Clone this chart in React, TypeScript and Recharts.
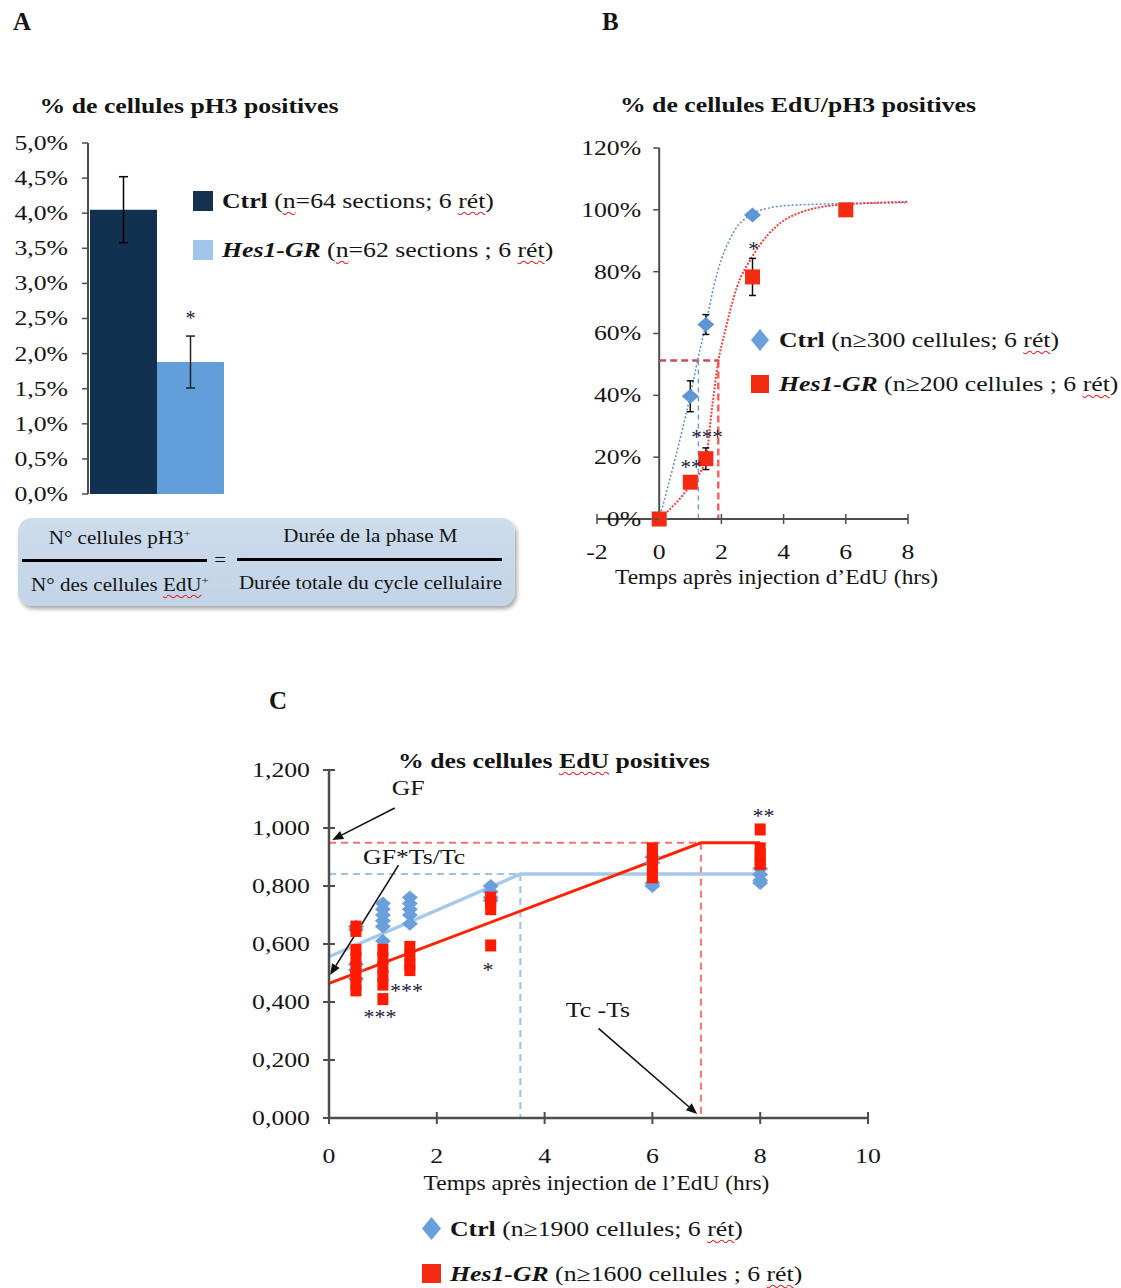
import React from "react";
import {
  BarChart,
  Bar,
  ComposedChart,
  Line,
  Scatter,
  XAxis,
  YAxis,
  ErrorBar,
  ReferenceLine,
  LabelList,
  Legend,
} from "recharts";

const FONT = '"Liberation Serif", "Times New Roman", Times, serif';
const AXIS = "#4d4d4d";
const INK = "#141414";
const SX = 1.17; // the figure's lettering is stretched horizontally

// ---------- A : % de cellules pH3 positives ----------
const barGroups = ["pH3"];
const ctrlPh3 = [4.05];
const ctrlPh3Err = [0.47];
const hesPh3 = [1.88];
const hesPh3Err = [0.37];
const ph3Ticks = [0, 0.5, 1, 1.5, 2, 2.5, 3, 3.5, 4, 4.5, 5];

// ---------- B : % de cellules EdU/pH3 positives ----------
const mitTicksX = [-2, 0, 2, 4, 6, 8];
const mitTicksY = [0, 20, 40, 60, 80, 100, 120];
const ctrlMitX = [0, 1, 1.5, 3];
const ctrlMitY = [0, 39.7, 62.9, 98.3];
const ctrlMitErr = [null, 5, 3.2, null];
const hesMitX = [0, 1, 1.5, 3, 6];
const hesMitY = [0, 11.9, 19.5, 78.3, 100];
const hesMitErr = [null, null, 3.5, 6, null];
// fitted curves
const ctrlMitFitX = [0, 0.5, 1, 1.25, 1.5, 1.75, 2, 2.25, 2.5, 2.75, 3, 3.5, 4, 5, 6, 8];
const ctrlMitFitY = [0, 19, 40, 52, 63, 75, 84, 90, 94.5, 97, 98.8, 100.5, 101.3, 101.8, 102, 102.3];
const hesMitFitX = [0, 1, 1.5, 1.7, 1.9, 2.1, 2.5, 3, 3.5, 4, 4.5, 5, 6, 7, 8];
const hesMitFitY = [0, 11, 19.5, 36, 51, 60, 75, 85, 92, 96.5, 99, 100.5, 101.8, 102.3, 102.6];
const mitHalf = 51.3;
const ctrlHalfTime = 1.26;
const hesHalfTime = 1.9;
const mitStarX = [3.03, 1.54, 1.02];
const mitStarY = [88.4, 27.8, 18.1];
const mitStarText = ["*", "***", "**"];

// ---------- C : % des cellules EdU positives ----------
const edTicksX = [0, 2, 4, 6, 8, 10];
const edTicksY = [0, 0.2, 0.4, 0.6, 0.8, 1.0, 1.2];
const ctrlEdX = [0.5, 0.5, 0.5, 0.5, 0.5, 1, 1, 1, 1, 1, 1, 1.5, 1.5, 1.5, 1.5, 1.5, 3, 3, 3, 3, 6, 6, 6, 6, 8, 8, 8, 8];
const ctrlEdY = [0.66, 0.65, 0.53, 0.51, 0.48, 0.74, 0.72, 0.7, 0.68, 0.66, 0.61, 0.76, 0.74, 0.72, 0.7, 0.67, 0.8, 0.78, 0.76, 0.75, 0.9, 0.88, 0.81, 0.8, 0.86, 0.84, 0.82, 0.81];
const hesEdX = [0.5, 0.5, 0.5, 0.5, 0.5, 0.5, 0.5, 0.5, 1, 1, 1, 1, 1, 1, 1.5, 1.5, 1.5, 1.5, 3, 3, 3, 3, 6, 6, 6, 6, 6, 6, 8, 8, 8, 8, 8];
const hesEdY = [0.66, 0.645, 0.58, 0.55, 0.52, 0.49, 0.46, 0.44, 0.58, 0.55, 0.52, 0.49, 0.46, 0.41, 0.59, 0.56, 0.53, 0.51, 0.76, 0.74, 0.72, 0.595, 0.93, 0.91, 0.89, 0.86, 0.84, 0.83, 0.995, 0.93, 0.91, 0.89, 0.875];
const ctrlEdFitX = [0, 3.55, 8];
const ctrlEdFitY = [0.556, 0.841, 0.841];
const hesEdFitX = [0, 6.9, 8];
const hesEdFitY = [0.464, 0.949, 0.949];
const edStarX = [0.945, 1.44, 2.95, 8.06];
const edStarY = [0.361, 0.453, 0.524, 1.056];
const edStarText = ["***", "***", "*", "**"];
const noteX = [1.47, 1.58, 4.99];
const noteY = [1.138, 0.9, 0.372];
const noteText = ["GF", "GF*Ts/Tc", "Tc -Ts"];
const arrowFrom = [[1.22, 1.069], [1.29, 0.872], [5.0, 0.309]];
const arrowTo = [[0.06, 0.959], [0.02, 0.493], [6.83, 0.014]];

const legendA = [
  { name: "Ctrl", detail: " (~n~=64 sections; 6 ~rét~)", color: "#14324f", italic: false, shape: "square" },
  { name: "Hes1-GR", detail: " (~n~=62 sections ; 6 ~rét~)", color: "#a2c5ea", italic: true, shape: "square" },
];
const legendB = [
  { name: "Ctrl", detail: " (n≥300 cellules; 6 ~rét~)", color: "#6a9fdc", italic: false, shape: "diamond" },
  { name: "Hes1-GR", detail: " (n≥200 cellules ; 6 ~rét~)", color: "#f52a12", italic: true, shape: "square" },
];
const legendC = [
  { name: "Ctrl", detail: " (n≥1900 cellules; 6 ~rét~)", color: "#6a9fdc", italic: false, shape: "diamond" },
  { name: "Hes1-GR", detail: " (n≥1600 cellules ; 6 ~rét~)", color: "#f52a12", italic: true, shape: "square" },
];

const ph3Data = barGroups.map((g, i) => ({
  name: g,
  ctrl: ctrlPh3[i],
  ctrlErr: ctrlPh3Err[i],
  hes: hesPh3[i],
  hesErr: hesPh3Err[i],
}));
const zip = (xs: number[], ys: number[]) => xs.map((x, i) => ({ x, y: ys[i] }));
const ctrlMit = ctrlMitX.map((x, i) => ({ x, y: ctrlMitY[i], err: ctrlMitErr[i] }));
const hesMit = hesMitX.map((x, i) => ({ x, y: hesMitY[i], err: hesMitErr[i] }));
const mitStars = mitStarX.map((x, i) => ({ x, y: mitStarY[i], text: mitStarText[i] }));
const edStars = edStarX.map((x, i) => ({ x, y: edStarY[i], text: edStarText[i] }));
const notes = noteX.map((x, i) => ({ x, y: noteY[i], text: noteText[i] }));

const WAVY = { textDecoration: "underline wavy #e02828", textUnderlineOffset: "3px", textDecorationThickness: "1px" };
const marked = (s: string) =>
  s.split("~").map((part, i) => (i % 2 ? <span key={i} style={WAVY}>{part}</span> : <span key={i}>{part}</span>));
const stretch: React.CSSProperties = { display: "inline-block", transform: `scaleX(${SX})` };
const sText = (x: number, y: number) => `translate(${x} ${y}) scale(${SX} 1) translate(${-x} ${-y})`;

const makeLegend = (items: any[], fontSize: number, rowHeight: number, icon: number, gap: number) => () => (
  <div style={{ fontFamily: FONT, fontSize, color: INK, textAlign: "left" }}>
    {items.map((it) => (
      <div key={it.name} style={{ display: "flex", alignItems: "center", height: rowHeight, whiteSpace: "nowrap" }}>
        <svg width={icon} height={icon + 4} style={{ marginRight: gap, flex: "none" }}>
          {it.shape === "diamond" ? (
            <polygon points={`${icon / 2},0 ${icon},${(icon + 4) / 2} ${icon / 2},${icon + 4} 0,${(icon + 4) / 2}`} fill={it.color} />
          ) : (
            <rect x={0} y={2} width={icon} height={icon} fill={it.color} />
          )}
        </svg>
        <span style={{ ...stretch, transformOrigin: "left center", whiteSpace: "pre" }}>
          <b style={{ fontStyle: it.italic ? "italic" : "normal" }}>{it.name}</b>
          {marked(it.detail)}
        </span>
      </div>
    ))}
  </div>
);

const diamond = (w: number, h: number, fill: string) => (p: any) => (
  <polygon
    points={`${p.cx},${p.cy - h / 2} ${p.cx + w / 2},${p.cy} ${p.cx},${p.cy + h / 2} ${p.cx - w / 2},${p.cy}`}
    fill={fill}
  />
);
const square = (w: number, h: number, fill: string) => (p: any) => (
  <rect x={p.cx - w / 2} y={p.cy - h / 2} width={w} height={h} fill={fill} />
);
const starMark = (size: number) => (p: any) => (
  <text x={p.cx} y={p.cy} dy={size * 0.5} textAnchor="middle" fontSize={size} fontFamily={FONT} fill="#1a1a3a">
    {p.payload.text}
  </text>
);
const noteMark = (size: number) => (p: any) => (
  <text x={p.cx} y={p.cy} dy={size * 0.33} textAnchor="middle" fontSize={size} fontFamily={FONT} fill={INK} transform={sText(p.cx, p.cy)}>
    {p.payload.text}
  </text>
);
const arrowShape = (p: any) => {
  const { x1, y1, x2, y2 } = p;
  const a = Math.atan2(y2 - y1, x2 - x1);
  const L = 11;
  const W = 4.5;
  const bx = x2 - L * Math.cos(a);
  const by = y2 - L * Math.sin(a);
  const nx = -Math.sin(a) * W;
  const ny = Math.cos(a) * W;
  return (
    <g>
      <line x1={x1} y1={y1} x2={bx} y2={by} stroke="#111" strokeWidth={1.6} />
      <polygon points={`${x2},${y2} ${bx + nx},${by + ny} ${bx - nx},${by - ny}`} fill="#111" />
    </g>
  );
};

const tickFont = { fill: INK, fontSize: 22, fontFamily: FONT };
const makeTick = (fmt: (v: number) => string, dy: number) => (p: any) => (
  <text x={p.x} y={p.y} dy={dy} textAnchor={p.textAnchor} transform={sText(p.x, p.y)} {...tickFont}>
    {fmt(p.payload.value)}
  </text>
);
const pct1 = (v: number) => v.toFixed(1).replace(".", ",") + "%";
const dec3 = (v: number) => v.toFixed(3).replace(".", ",");
const plain = (v: number) => String(v);

// y axis of B sits at x = 0, not at the left edge of the plot
const B_LEFT = 37;
const B_PLOT_W = 311;
const B_AXIS_X = B_LEFT + (B_PLOT_W * 2) / 10;
const MitYTick = (p: any) => (
  <g>
    <line x1={B_AXIS_X - 6} x2={B_AXIS_X} y1={p.y} y2={p.y} stroke={AXIS} strokeWidth={1.5} />
    <text x={B_AXIS_X - 18} y={p.y} dy={7} textAnchor="end" transform={sText(B_AXIS_X - 18, p.y)} {...tickFont}>
      {p.payload.value}%
    </text>
  </g>
);

const axisTitle = (text: string, dx: number, lift: number) => (p: any) => {
  const vb = p.viewBox;
  const x = vb.x + vb.width / 2 + dx;
  const y = vb.y + vb.height - lift;
  return (
    <text x={x} y={y} textAnchor="middle" fontSize={20} fontFamily={FONT} fill={INK} transform={sText(x, y)}>
      {text}
    </text>
  );
};

const StarLabel = (p: any) => {
  const vb = p.viewBox || p;
  return (
    <text x={vb.x + vb.width / 2} y={vb.y - 37} textAnchor="middle" fontSize={20} fontFamily={FONT} fill="#1a1a3a">
      *
    </text>
  );
};

const abs = (left: number, top: number): React.CSSProperties => ({ position: "absolute", left, top });
const Title = ({ cx, cy, children }: any) => (
  <div
    style={{
      position: "absolute",
      left: cx - 300,
      top: cy - 13,
      width: 600,
      lineHeight: "26px",
      textAlign: "center",
      fontFamily: FONT,
      fontWeight: "bold",
      fontSize: 22,
      color: INK,
      transform: `scaleX(${SX})`,
    }}
  >
    {children}
  </div>
);
const Letter = ({ x, y, children }: any) => (
  <div style={{ ...abs(x, y - 14), lineHeight: "28px", fontFamily: FONT, fontWeight: "bold", fontSize: 25, color: INK }}>{children}</div>
);
const Cell = ({ left, top, width, children }: any) => (
  <div style={{ position: "absolute", left, top, width, textAlign: "center" }}>
    <span style={stretch}>{children}</span>
  </div>
);

export default function App() {
  return (
    <div style={{ position: "absolute", left: 0, top: 0, width: 1121, height: 1288, background: "#fff", overflow: "hidden" }}>
      <Letter x={13} y={22}>A</Letter>
      <Letter x={602} y={22}>B</Letter>
      <Letter x={269} y={701}>C</Letter>

      <Title cx={189} cy={106}>% de cellules pH3 positives</Title>
      <Title cx={798} cy={105}>% de cellules EdU/pH3 positives</Title>
      <Title cx={554} cy={761}>
        % des cellules <span style={WAVY}>EdU</span> positives
      </Title>

      {/* A */}
      <div style={abs(0, 120)}>
        <BarChart
          width={560}
          height={390}
          data={ph3Data}
          margin={{ top: 23, right: 335, bottom: 16, left: 0 }}
          barCategoryGap={2}
          barGap={0}
        >
          <XAxis dataKey="name" hide />
          <YAxis
            domain={[0, 5]}
            ticks={ph3Ticks}
            interval={0}
            width={88}
            axisLine={{ stroke: AXIS, strokeWidth: 2 }}
            tickLine={{ stroke: AXIS, strokeWidth: 1.5 }}
            tickSize={6}
            tickMargin={14}
            tick={makeTick(pct1, 7)}
          />
          <Bar dataKey="ctrl" fill="#12304f" isAnimationActive={false}>
            <ErrorBar dataKey="ctrlErr" direction="y" width={4.5} stroke="#000" strokeWidth={1.5} isAnimationActive={false} />
          </Bar>
          <Bar dataKey="hes" fill="#629fda" isAnimationActive={false}>
            <ErrorBar dataKey="hesErr" direction="y" width={4.5} stroke="#222" strokeWidth={1.5} isAnimationActive={false} />
            <LabelList dataKey="hes" content={StarLabel} />
          </Bar>
          <Legend
            layout="vertical"
            align="center"
            verticalAlign="middle"
            content={makeLegend(legendA, 22, 49, 20, 9)}
            wrapperStyle={{ left: 193, top: 56, width: 380 }}
          />
        </BarChart>
      </div>

      {/* formula */}
      <div
        style={{
          position: "absolute",
          left: 18,
          top: 518,
          width: 497,
          height: 88,
          background: "linear-gradient(#ccdcec, #c3d4e8)",
          borderRadius: 14,
          boxShadow: "2px 3px 4px rgba(0,0,0,0.35)",
          fontFamily: FONT,
          fontSize: 18,
          color: INK,
        }}
      >
        <Cell left={4} top={9} width={196}>
          N° cellules pH3<sup style={{ fontSize: "60%" }}>+</sup>
        </Cell>
        <div style={{ position: "absolute", left: 4, top: 41, width: 185, height: 3, background: "#000" }} />
        <Cell left={194} top={32} width={16}>=</Cell>
        <Cell left={4} top={56} width={196}>
          N° des cellules <span style={WAVY}>EdU</span>
          <sup style={{ fontSize: "60%" }}>+</sup>
        </Cell>
        <Cell left={218} top={8} width={268}>Durée de la phase M</Cell>
        <div style={{ position: "absolute", left: 219, top: 40, width: 265, height: 3, background: "#000" }} />
        <Cell left={214} top={55} width={276}>Durée totale du cycle cellulaire</Cell>
      </div>

      {/* B */}
      <div style={abs(560, 120)}>
        <ComposedChart width={561} height={480} margin={{ top: 28, right: 213, bottom: 11, left: B_LEFT - 1 }}>
          <XAxis
            type="number"
            dataKey="x"
            domain={[-2, 8]}
            ticks={mitTicksX}
            interval={0}
            height={70}
            axisLine={{ stroke: AXIS, strokeWidth: 2 }}
            tickLine={{ stroke: AXIS, strokeWidth: 1.5, transform: "translate(0 -5)" }}
            tickSize={10}
            tickMargin={14}
            tick={makeTick(plain, 15.6)}
            label={{ content: axisTitle("Temps après injection d’EdU (hrs)", 24, 5) }}
          />
          <YAxis
            type="number"
            dataKey="y"
            domain={[0, 120]}
            ticks={mitTicksY}
            interval={0}
            width={1}
            axisLine={false}
            tickLine={false}
            tick={MitYTick}
          />
          <ReferenceLine x={0} stroke={AXIS} strokeWidth={2} />
          <ReferenceLine segment={[{ x: 0, y: mitHalf }, { x: hesHalfTime, y: mitHalf }]} stroke="#c2505a" strokeWidth={2.5} strokeDasharray="7 4" />
          <ReferenceLine segment={[{ x: hesHalfTime, y: mitHalf }, { x: hesHalfTime, y: 0 }]} stroke="#ff6262" strokeWidth={2.5} strokeDasharray="7 4" />
          <ReferenceLine segment={[{ x: ctrlHalfTime, y: mitHalf }, { x: ctrlHalfTime, y: 0 }]} stroke="#6f9fd8" strokeWidth={1.5} strokeDasharray="5 4" />
          <Line data={zip(ctrlMitFitX, ctrlMitFitY)} dataKey="y" type="monotone" stroke="#5b8fd0" strokeWidth={1.5} strokeDasharray="2 2" dot={false} isAnimationActive={false} />
          <Line data={zip(hesMitFitX, hesMitFitY)} dataKey="y" type="monotone" stroke="#ff3c3c" strokeWidth={2} strokeDasharray="2 1.5" dot={false} isAnimationActive={false} />
          <Scatter data={ctrlMit} dataKey="y" shape={diamond(17, 15, "#5f95d4")} isAnimationActive={false}>
            <ErrorBar dataKey="err" direction="y" width={3.5} stroke="#111" strokeWidth={1.5} isAnimationActive={false} />
          </Scatter>
          <Scatter data={hesMit} dataKey="y" shape={square(15, 15, "#f52a12")} isAnimationActive={false}>
            <ErrorBar dataKey="err" direction="y" width={3.5} stroke="#111" strokeWidth={1.5} isAnimationActive={false} />
          </Scatter>
          <Scatter data={mitStars} dataKey="y" shape={starMark(21)} isAnimationActive={false} />
          <Legend
            layout="vertical"
            align="center"
            verticalAlign="middle"
            content={makeLegend(legendB, 22, 44, 18, 10)}
            wrapperStyle={{ left: 191, top: 198, width: 380 }}
          />
        </ComposedChart>
      </div>

      {/* C */}
      <div style={abs(240, 730)}>
        <ComposedChart width={881} height={558} margin={{ top: 40, right: 253, bottom: 92, left: 0 }}>
          <XAxis
            type="number"
            dataKey="x"
            domain={[0, 10]}
            ticks={edTicksX}
            interval={0}
            height={78}
            axisLine={{ stroke: AXIS, strokeWidth: 2.5 }}
            tickLine={{ stroke: AXIS, strokeWidth: 2, transform: "translate(0 -6)" }}
            tickSize={12}
            tickMargin={17}
            tick={makeTick(plain, 15.6)}
            label={{ content: axisTitle("Temps après injection de l’EdU (hrs)", -2, 6) }}
          />
          <YAxis
            type="number"
            dataKey="y"
            domain={[0, 1.2]}
            ticks={edTicksY}
            interval={0}
            width={89}
            axisLine={{ stroke: AXIS, strokeWidth: 2.5 }}
            tickLine={{ stroke: AXIS, strokeWidth: 2, transform: "translate(6 0)" }}
            tickSize={12}
            tickMargin={7}
            tick={makeTick(dec3, 7)}
          />
          <Scatter data={zip(ctrlEdX, ctrlEdY)} dataKey="y" shape={diamond(16, 14, "#6a9fdc")} isAnimationActive={false} />
          <Scatter data={zip(hesEdX, hesEdY)} dataKey="y" shape={square(11, 12, "#ff1a00")} isAnimationActive={false} />
          <ReferenceLine segment={[{ x: 0, y: hesEdFitY[1] }, { x: hesEdFitX[1], y: hesEdFitY[1] }]} stroke="#ff7070" strokeWidth={2} strokeDasharray="7 5" />
          <ReferenceLine segment={[{ x: hesEdFitX[1], y: hesEdFitY[1] }, { x: hesEdFitX[1], y: 0 }]} stroke="#ff7070" strokeWidth={2} strokeDasharray="7 5" />
          <ReferenceLine segment={[{ x: 0, y: ctrlEdFitY[1] }, { x: ctrlEdFitX[1], y: ctrlEdFitY[1] }]} stroke="#9dc3e6" strokeWidth={2} strokeDasharray="7 5" />
          <ReferenceLine segment={[{ x: ctrlEdFitX[1], y: ctrlEdFitY[1] }, { x: ctrlEdFitX[1], y: 0 }]} stroke="#9dc3e6" strokeWidth={2} strokeDasharray="7 5" />
          <Line data={zip(ctrlEdFitX, ctrlEdFitY)} dataKey="y" type="linear" stroke="#a6c8ea" strokeWidth={3.5} dot={false} isAnimationActive={false} />
          <Line data={zip(hesEdFitX, hesEdFitY)} dataKey="y" type="linear" stroke="#ff2200" strokeWidth={3} dot={false} isAnimationActive={false} />
          {arrowFrom.map((f, i) => (
            <ReferenceLine
              key={i}
              segment={[{ x: f[0], y: f[1] }, { x: arrowTo[i][0], y: arrowTo[i][1] }]}
              shape={arrowShape}
              ifOverflow="visible"
            />
          ))}
          <Scatter data={edStars} dataKey="y" shape={starMark(22)} isAnimationActive={false} />
          <Scatter data={notes} dataKey="y" shape={noteMark(22)} isAnimationActive={false} />
          <Legend
            layout="vertical"
            align="center"
            verticalAlign="middle"
            content={makeLegend(legendC, 22, 45, 19, 9)}
            wrapperStyle={{ left: 182, top: 476, width: 420 }}
          />
        </ComposedChart>
      </div>
    </div>
  );
}
